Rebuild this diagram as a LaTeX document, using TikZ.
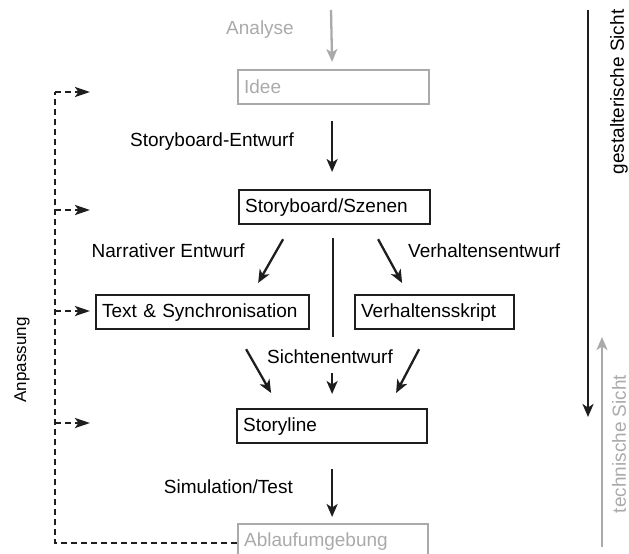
\documentclass[tikz,border=0pt]{standalone}
\usepackage{fontspec}
\setmainfont{Liberation Sans}
\usetikzlibrary{arrows.meta,calc}
\definecolor{ink}{RGB}{30,30,30}
\definecolor{pale}{RGB}{170,170,170}
\tikzset{
  lbl/.style={font=\fontsize{19}{23}\selectfont, inner sep=0pt},
  box/.style={draw=ink, line width=2.2pt, inner xsep=6pt, inner ysep=0pt,
    minimum height=34pt, align=left, anchor=north west,
    font=\fontsize{19}{23}\selectfont},
  palebox/.style={box, draw=pale, text=pale},
  arr/.style={draw=ink, line width=2.3pt, -{Stealth[length=13pt,width=11pt,inset=3.5pt]}},
  palearr/.style={arr, draw=pale, -{Stealth[length=13pt,width=11pt,inset=3.5pt,fill=pale]}},
  fb/.style={draw=ink, line width=2.5pt, dash pattern=on 6pt off 4pt},
  fbarr/.style={fb, -{Stealth[length=15pt,width=10pt,inset=3.5pt]}}
}
\begin{document}
\begin{tikzpicture}[x=1pt,y=-1pt]
\useasboundingbox (0,0) rectangle (629,554);
\clip (0,0) rectangle (629,554);

% process boxes
\node[palebox, text width=179pt] (idee) at (237,69) {Idee};
\node[box, text width=179pt] (sb) at (238,189) {Storyboard/Szenen};
\node[box, text width=201pt] (ts) at (95,294) {Text \& Synchronisation};
\node[box, text width=147pt] (vs) at (354,294) {Verhaltensskript};
\node[box, text width=178pt] (sl) at (236,408) {Storyline};
\node[palebox, text width=178pt] (ab) at (237,523) {Ablaufumgebung};

% step labels
\node[lbl, text=pale, anchor=east] (lanalyse) at (294,30) {Analyse};
\node[lbl, anchor=east] (lsbe) at (294,142) {Storyboard-Entwurf};
\node[lbl, anchor=east] (lnarr) at (245,251) {Narrativer Entwurf};
\node[lbl, anchor=west] (lverh) at (408,251) {Verhaltensentwurf};
\node[lbl] (lsicht) at (330,357) {Sichtenentwurf};
\node[lbl, anchor=east] (lsim) at (293,487) {Simulation/Test};

% flow arrows
\coordinate (start) at (331,10);
\draw[palearr] (start) -- ($(idee.north)+(-1.5,-7)$);
\draw[arr] ($(idee.south)+(-1.5,16)$) -- ($(sb.north)+(-2.5,-17)$);
\draw[arr] ($(sb.south)+(-51.5,14)$) -- ($(ts.north)+(55.5,-11)$);
\draw[arr] ($(sb.south)+(43.5,14)$) -- ($(vs.north)+(-32.5,-11)$);
\draw[draw=ink, line width=2.3pt] ($(sb.south)+(-1.5,13)$) -- ($(sl.north)+(1,-71)$);
\draw[arr] ($(sl.north)+(0,-35)$) -- ($(sl.north)+(0,-14)$);
\draw[arr] ($(ts.south)+(43.5,19)$) -- ($(sl.north)+(-61,-15)$);
\draw[arr] ($(vs.south)+(-15.5,19)$) -- ($(sl.north)+(64,-15)$);
\draw[arr] ($(sl.south)+(0,25)$) -- ($(ab.north)+(-1,-6)$);

% feedback loop
\coordinate (fbtop) at (55,92);
\coordinate (f1) at (90,92);
\coordinate (f2) at (90,210);
\coordinate (f3) at (90,311);
\coordinate (f4) at (90,423);
\draw[fb] ($(ab.west)+(0,2)$) -| (fbtop);
\draw[fbarr] (fbtop) -- (f1);
\draw[fbarr] (f2 -| fbtop) -- (f2);
\draw[fbarr] (f3 -| fbtop) -- (f3);
\draw[fbarr] (f4 -| fbtop) -- (f4);
\node[lbl, rotate=90, font=\fontsize{17}{20}\selectfont] (lanp) at (22,360) {Anpassung};

% viewpoint axes
\coordinate (g1) at (588,10);
\coordinate (g2) at (588,417);
\coordinate (t1) at (602,547);
\coordinate (t2) at (602,337);
\draw[arr] (g1) -- (g2);
\draw[palearr, line width=2.5pt] (t1) -- (t2);
\node[lbl, rotate=90] (lgest) at (619,92) {gestalterische Sicht};
\node[lbl, rotate=90, text=pale] (ltech) at (619,444) {technische Sicht};
\end{tikzpicture}
\end{document}
